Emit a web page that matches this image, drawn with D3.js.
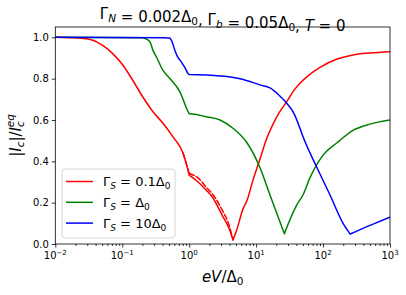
<!DOCTYPE html>
<html><head><meta charset="utf-8">
<script src="https://cdn.jsdelivr.net/npm/d3@7"></script>
<style>body{margin:0;background:#fff}svg{display:block}text{font-family:"DejaVu Sans",sans-serif;fill:#000}</style>
</head><body><svg id="c" width="406" height="295"></svg>
<script>
// Data (x = eV/Δ0, y = |Ic|/Ic^eq)
const redX   = [0.01,0.0166,0.0331,0.0517,0.0728,0.1026,0.145,0.204,0.288,0.406,0.573,0.809,0.962,1.0,1.03,1.355,1.85,2.19,3.1,4.0,4.51,5.1,6.37,7.3,9.0,11.4,14.0,17.9,22.0,28.9,36.0,45.2,60,90,162,280,502,1000];
const redY   = [1.0,0.998,0.99,0.96,0.92,0.865,0.79,0.71,0.64,0.584,0.518,0.44,0.357,0.333,0.33,0.30,0.256,0.23,0.14,0.07,0.02,0.065,0.17,0.21,0.31,0.41,0.50,0.58,0.635,0.69,0.74,0.778,0.815,0.855,0.895,0.915,0.924,0.93];
const redDashX = [0.809,0.962,1.0,1.03,1.355,1.85,2.19,3.1,4.0,4.51];
const redDashY = [0.44,0.36,0.342,0.34,0.32,0.27,0.245,0.165,0.085,0.02];
const greenX = [0.01,0.2,0.235,0.261,0.288,0.33,0.406,0.517,0.73,0.962,1.0,1.03,1.85,2.89,4.51,7.3,11.4,16.1,26.4,40.7,50.1,63.7,100,162,280,502,1000];
const greenY = [1.0,0.998,0.99,0.977,0.937,0.90,0.84,0.80,0.735,0.64,0.63,0.63,0.615,0.60,0.56,0.49,0.37,0.237,0.05,0.19,0.237,0.32,0.43,0.49,0.55,0.58,0.60];
const blueX  = [0.01,0.44,0.517,0.553,0.614,0.66,0.765,0.865,0.962,1.0,2.89,5.74,11.4,16.1,22,28.9,37,45.2,50.1,81,127,199,255,502,1000];
const blueY  = [1.0,0.998,0.996,0.98,0.935,0.91,0.88,0.853,0.825,0.82,0.813,0.80,0.77,0.755,0.72,0.68,0.63,0.56,0.52,0.37,0.237,0.10,0.048,0.09,0.13];
const xTicks = [0.01,0.1,1,10,100,1000];
const xTickExp = ["−2","−1","0","1","2","3"];
const yTicks = [0,0.2,0.4,0.6,0.8,1.0];

const svg = d3.select("#c");
const L=55.3,R=390,T=27,B=244;
const x = d3.scaleLog().domain([0.01,1000]).range([L,R]);
const y = d3.scaleLinear().domain([0,1.05]).range([B,T]);

svg.append("defs").append("clipPath").attr("id","cp").append("rect")
  .attr("x",L).attr("y",T).attr("width",R-L).attr("height",B-T);

const line = d3.line().x(d=>x(d[0])).y(d=>y(d[1])).curve(d3.curveMonotoneX);
const g = svg.append("g").attr("clip-path","url(#cp)");
// piecewise-smooth curve with sharp corners at given x values
function draw(xs,ys,col,corners,dash){
  const pts=d3.zip(xs,ys);
  let seg=[];
  const segs=[];
  pts.forEach(p=>{ seg.push(p); if(corners.includes(p[0])){ segs.push(seg); seg=[p]; } });
  segs.push(seg);
  g.append("path").attr("d",segs.filter(s=>s.length>1).map(s=>line(s)).join("")).attr("fill","none")
   .attr("stroke",col).attr("stroke-width",1.5).attr("stroke-linejoin","round").attr("stroke-linecap","round")
   .attr("stroke-dasharray",dash||null);
}
draw(redX,redY,"#ff0000",[1.0,4.51]);
draw(redDashX,redDashY,"#ff0000",[1.0],"5.5,2.4");
draw(greenX,greenY,"#008000",[1.0,26.4]);
draw(blueX,blueY,"#0000ff",[0.517,1.0,255]);

// axes
svg.append("g").attr("transform",`translate(0,${B})`)
  .call(d3.axisBottom(x).tickValues(xTicks).tickFormat("").tickSizeInner(3.5).tickSizeOuter(0));
const minor=[];
for(let e=-2;e<3;e++) for(let k=2;k<10;k++) minor.push(k*Math.pow(10,e));
svg.append("g").attr("transform",`translate(0,${B})`)
  .call(d3.axisBottom(x).tickValues(minor).tickFormat("").tickSizeInner(2).tickSizeOuter(0));
xTicks.forEach((v,i)=>{
  const t=svg.append("text").attr("x",x(v)).attr("y",B+15).attr("text-anchor","middle").attr("font-size",10);
  t.append("tspan").text("10");
  t.append("tspan").attr("dy",-4).attr("font-size",7).text(xTickExp[i]);
});
const ya = svg.append("g").attr("transform",`translate(${L},0)`)
  .call(d3.axisLeft(y).tickValues(yTicks).tickFormat(d3.format(".1f")).tickSizeInner(3.5).tickSizeOuter(0));
ya.selectAll("text").attr("font-size",10).attr("font-family","DejaVu Sans").attr("fill","#000");
svg.selectAll(".domain").remove();
svg.selectAll(".tick line").attr("stroke","#000").attr("stroke-width",0.8);
svg.append("rect").attr("x",L).attr("y",T).attr("width",R-L).attr("height",B-T)
  .attr("fill","none").attr("stroke","#000").attr("stroke-width",0.8);

// title
const tt = svg.append("text").attr("x",(L+R)/2).attr("y",19).attr("text-anchor","middle").attr("font-size",15);
function sub(t,s,it){ t.append("tspan").attr("dy",3).attr("font-size",10.5).attr("font-style",it?"italic":null).text(s); t.append("tspan").attr("dy",-3).text(""); }
tt.append("tspan").text("Γ"); sub(tt,"N",true);
tt.append("tspan").text(" = 0.002Δ"); sub(tt,"0");
tt.append("tspan").text(", Γ"); sub(tt,"b",true);
tt.append("tspan").text(" = 0.05Δ"); sub(tt,"0");
tt.append("tspan").text(", ");
tt.append("tspan").attr("font-style","italic").text("T");
tt.append("tspan").text(" = 0");

// x label
const xl = svg.append("text").attr("x",(L+R)/2).attr("y",282).attr("text-anchor","middle").attr("font-size",15);
xl.append("tspan").attr("font-style","italic").text("eV");
xl.append("tspan").text("/Δ");
xl.append("tspan").attr("dy",3).attr("font-size",10.5).text("0");

// y label
const yl = svg.append("text").attr("transform",`translate(21,${(T+B)/2}) rotate(-90)`).attr("text-anchor","middle").attr("font-size",15);
yl.append("tspan").text("|");
yl.append("tspan").attr("font-style","italic").text("I");
yl.append("tspan").attr("dy",3).attr("font-size",10.5).attr("font-style","italic").text("c");
yl.append("tspan").attr("dy",-3).text("|/");
yl.append("tspan").attr("font-style","italic").text("I");
yl.append("tspan").attr("dy",3).attr("font-size",10.5).attr("font-style","italic").text("c");
yl.append("tspan").attr("dx",-6).attr("dy",-10).attr("font-size",10.5).attr("font-style","italic").text("eq");

// legend
const legLabels=["0.1Δ","Δ","10Δ"];
const legColors=["#ff0000","#008000","#0000ff"];
const lg=svg.append("g");
lg.append("rect").attr("x",62).attr("y",169).attr("width",113).attr("height",69).attr("rx",3)
  .attr("fill","#fff").attr("fill-opacity",0.8).attr("stroke","#ccc").attr("stroke-width",0.8);
legLabels.forEach((s,i)=>{
  const yy=181.5+i*20.8;
  lg.append("line").attr("x1",66).attr("x2",93).attr("y1",yy).attr("y2",yy).attr("stroke",legColors[i]).attr("stroke-width",1.5);
  const t=lg.append("text").attr("x",103).attr("y",yy+4.5).attr("font-size",13);
  t.append("tspan").text("Γ");
  t.append("tspan").attr("dy",3).attr("font-size",9).attr("font-style","italic").text("S");
  t.append("tspan").attr("dy",-3).text(" = "+s);
  t.append("tspan").attr("dy",3).attr("font-size",9).text("0");
});
</script></body></html>
